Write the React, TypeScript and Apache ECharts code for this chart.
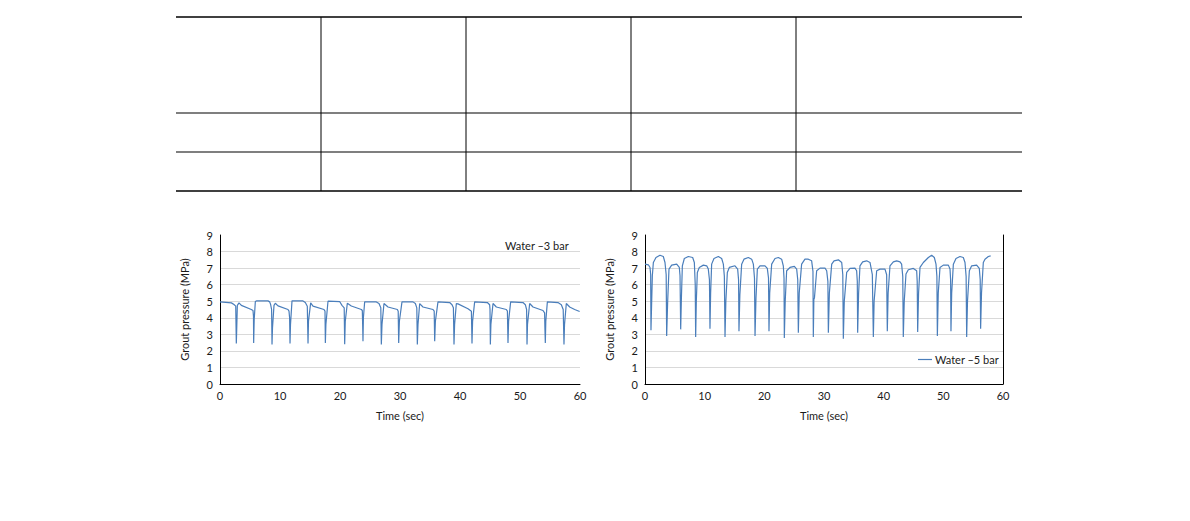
import React, { useEffect, useRef } from "react";
import * as echarts from "echarts";

// ---------- data ----------
const xTicks = [0, 10, 20, 30, 40, 50, 60];
const yTicks = [0, 1, 2, 3, 4, 5, 6, 7, 8, 9];
const seriesNames = ["Water –3 bar", "Water –5 bar"];
const xTitle = "Time (sec)";
const yTitle = "Grout pressure (MPa)";

// [time (sec), grout pressure (MPa)]
const water3Bar: [number, number][] = [
  [0, 4.96], [1.9, 4.9], [2.33, 4.8], [2.62, 4.7], [2.72, 2.45], [2.8, 3.5], [2.89, 4.75], [3.17, 4.9],
  [3.56, 4.75], [5.22, 4.5], [5.5, 4.44], [5.58, 4.1], [5.61, 2.48], [5.7, 3.9], [5.89, 4.98], [6.06, 5.02],
  [8.0, 5.02], [8.28, 4.96], [8.44, 4.8], [8.6, 4.5], [8.67, 2.38], [8.75, 3.4], [9.0, 4.75], [9.22, 4.88],
  [9.67, 4.72], [11.33, 4.5], [11.5, 4.4], [11.6, 4.0], [11.67, 2.45], [11.75, 3.6], [12.0, 5.02], [13.83, 5.02],
  [14.22, 4.92], [14.55, 4.7], [14.67, 2.45], [14.75, 3.8], [15.11, 4.9], [15.5, 4.7], [17.33, 4.5], [17.5, 4.4],
  [17.56, 2.48], [17.65, 3.6], [18.0, 5.0], [19.94, 4.98], [20.33, 4.75], [20.7, 4.6], [20.78, 2.4], [20.88, 3.8],
  [21.22, 4.88], [21.89, 4.71], [23.56, 4.5], [23.72, 4.44], [23.78, 3.5], [23.83, 2.58], [23.9, 4.0], [24.11, 4.96],
  [26.06, 4.96], [26.5, 4.86], [26.8, 4.6], [26.89, 2.38], [27.0, 3.6], [27.33, 4.86], [28.0, 4.65], [29.56, 4.5],
  [29.7, 4.4], [29.78, 2.48], [29.9, 3.8], [30.33, 4.96], [32.17, 4.96], [32.56, 4.86], [32.8, 4.6], [32.89, 2.38],
  [33.0, 3.6], [33.28, 4.86], [33.83, 4.65], [35.5, 4.5], [35.7, 4.4], [35.78, 2.58], [35.9, 3.8], [36.33, 4.96],
  [38.28, 4.92], [38.67, 4.79], [38.9, 4.6], [39.0, 2.38], [39.1, 3.6], [39.39, 4.86], [39.67, 4.84], [41.33, 4.55],
  [41.9, 4.4], [42.0, 2.44], [42.1, 3.8], [42.44, 4.96], [44.56, 4.92], [44.94, 4.79], [45.0, 4.5], [45.06, 2.38],
  [45.15, 3.6], [45.5, 4.86], [46.06, 4.65], [47.72, 4.5], [47.9, 4.4], [48.0, 2.48], [48.1, 3.8], [48.44, 4.96],
  [50.5, 4.92], [50.89, 4.79], [51.1, 4.5], [51.17, 2.38], [51.25, 3.6], [51.61, 4.86], [52.17, 4.65], [53.83, 4.44],
  [54.1, 4.3], [54.15, 3.4], [54.22, 2.48], [54.3, 3.8], [54.56, 4.96], [56.33, 4.92], [56.89, 4.79], [57.2, 4.5],
  [57.33, 2.38], [57.42, 3.6], [57.72, 4.86], [58.28, 4.65], [59.11, 4.5], [59.94, 4.38],
];

const water5Bar: [number, number][] = [
  [0, 7.24], [0.56, 7.2], [0.84, 7.04], [0.95, 6.6], [1.0, 3.24], [1.1, 4.7], [1.23, 6.54], [1.4, 7.34],
  [1.84, 7.64], [2.51, 7.78], [3.07, 7.7], [3.35, 7.34], [3.55, 6.6], [3.63, 2.9], [3.8, 5.0], [4.02, 6.94],
  [4.47, 7.18], [5.31, 7.24], [5.75, 7.04], [5.87, 6.54], [5.98, 3.3], [6.1, 5.2], [6.26, 7.14], [6.59, 7.58],
  [7.26, 7.7], [7.99, 7.64], [8.27, 7.34], [8.42, 6.0], [8.49, 2.84], [8.6, 5.0], [8.77, 6.74], [9.1, 7.04],
  [9.78, 7.18], [10.34, 7.14], [10.61, 6.94], [10.8, 6.3], [10.89, 3.34], [11.0, 5.5], [11.17, 7.24], [11.56, 7.58],
  [12.29, 7.7], [12.85, 7.58], [13.13, 7.24], [13.3, 6.5], [13.41, 2.84], [13.55, 5.0], [13.8, 6.74], [14.13, 7.04],
  [15.08, 7.14], [15.53, 6.94], [15.68, 6.3], [15.75, 3.18], [15.9, 5.4], [16.2, 7.24], [16.59, 7.54], [17.32, 7.64],
  [17.88, 7.54], [18.16, 7.24], [18.35, 6.4], [18.44, 2.9], [18.6, 5.2], [18.83, 6.94], [19.27, 7.14], [20.11, 7.14],
  [20.5, 6.98], [20.7, 6.4], [20.78, 3.18], [20.9, 5.5], [21.23, 7.24], [21.79, 7.58], [22.35, 7.64], [22.9, 7.54],
  [23.18, 7.14], [23.3, 6.4], [23.35, 2.78], [23.5, 5.0], [23.74, 6.84], [24.3, 7.04], [25.03, 7.1], [25.42, 6.94],
  [25.6, 6.3], [25.7, 3.1], [25.85, 5.5], [26.25, 7.24], [26.81, 7.54], [27.37, 7.54], [27.93, 7.44], [28.15, 6.8],
  [28.21, 2.84], [28.3, 5.1], [28.4, 5.2], [28.77, 6.84], [29.33, 7.0], [30.17, 7.0], [30.45, 6.84], [30.65, 6.2],
  [30.73, 3.1], [30.9, 5.5], [31.29, 7.24], [31.68, 7.44], [32.41, 7.5], [32.97, 7.34], [33.15, 6.6], [33.24, 2.74],
  [33.4, 5.0], [33.8, 6.74], [34.36, 6.98], [35.19, 7.0], [35.47, 6.84], [35.58, 6.2], [35.64, 3.1], [35.8, 5.5],
  [36.03, 7.14], [36.48, 7.38], [37.15, 7.44], [37.71, 7.34], [38.1, 6.6], [38.27, 2.84], [38.4, 5.0], [38.83, 6.84],
  [39.39, 6.94], [40.22, 6.94], [40.5, 6.6], [40.61, 3.18], [40.75, 5.5], [41.06, 7.14], [41.62, 7.38], [42.18, 7.44],
  [42.74, 7.38], [43.01, 7.24], [43.2, 6.5], [43.29, 2.84], [43.45, 5.0], [43.74, 6.64], [44.13, 6.9], [44.97, 6.98],
  [45.53, 6.84], [45.62, 6.2], [45.7, 3.14], [45.85, 5.5], [46.09, 7.04], [46.65, 7.34], [47.49, 7.64], [48.04, 7.78],
  [48.49, 7.64], [48.77, 7.24], [48.92, 6.5], [49.0, 2.9], [49.15, 5.5], [49.44, 7.04], [50.0, 7.18], [50.84, 7.18],
  [51.12, 6.94], [51.22, 6.3], [51.28, 3.18], [51.4, 5.5], [51.68, 7.24], [52.12, 7.58], [52.79, 7.7], [53.35, 7.64],
  [53.63, 7.34], [53.82, 6.5], [53.91, 2.84], [54.05, 5.0], [54.36, 6.84], [54.75, 7.14], [55.58, 7.18], [56.03, 6.98],
  [56.18, 6.3], [56.25, 3.34], [56.4, 5.5], [56.7, 7.34], [56.98, 7.54], [57.54, 7.7], [57.93, 7.74],
];

// ---------- styles ----------
const FONT = "Lato";
const LINE_COLOR = "#4a7ebb";
const TEXT_COLOR = "#1a1a1a";
const GRID_COLOR = "#d9d9d9";

function xAxisFor(gridIndex: number) {
  return {
    gridIndex,
    type: "value",
    min: xTicks[0],
    max: xTicks[xTicks.length - 1],
    interval: 10,
    axisLine: { show: true, onZero: false, lineStyle: { color: "#000", width: 1 } },
    axisTick: { show: false },
    splitLine: { show: false },
    axisLabel: { color: TEXT_COLOR, fontSize: 11, fontFamily: FONT, margin: 6 },
    name: xTitle,
    nameLocation: "middle",
    nameGap: 26,
    nameTextStyle: { color: TEXT_COLOR, fontSize: 11, fontFamily: FONT },
  };
}

function yAxisFor(gridIndex: number) {
  return {
    gridIndex,
    type: "value",
    min: yTicks[0],
    max: yTicks[yTicks.length - 1],
    interval: 1,
    axisLine: { show: true, lineStyle: { color: "#000", width: 1 } },
    axisTick: { show: false },
    splitLine: {
      show: true,
      showMinLine: false,
      showMaxLine: false,
      lineStyle: { color: GRID_COLOR, width: 1 },
    },
    axisLabel: { color: TEXT_COLOR, fontSize: 11, fontFamily: FONT, margin: 7 },
    name: yTitle,
    nameLocation: "middle",
    nameGap: 30,
    nameRotate: 90,
    nameTextStyle: { color: TEXT_COLOR, fontSize: 11, fontFamily: FONT },
  };
}

// table rule lines (decoration above the charts)
const tableLeft = 176;
const tableRight = 1022;
const tableRows = [17, 113, 152, 191];
const tableCols = [321, 466, 631, 796];

function tableGraphics() {
  const els: any[] = [];
  tableRows.forEach((y, i) => {
    const thick = i === 0 || i === tableRows.length - 1;
    els.push({
      type: "line",
      shape: { x1: tableLeft, y1: y, x2: tableRight, y2: y },
      style: { stroke: "#000", lineWidth: thick ? 1.6 : 1.2 },
      silent: true,
    });
  });
  tableCols.forEach((x) => {
    els.push({
      type: "line",
      shape: { x1: x, y1: tableRows[0], x2: x, y2: tableRows[tableRows.length - 1] },
      style: { stroke: "#000", lineWidth: 1 },
      silent: true,
    });
  });
  return els;
}

export default function App() {
  const ref = useRef<HTMLDivElement>(null);

  useEffect(() => {
    if (!ref.current) return;
    const chart = echarts.init(ref.current, null, { renderer: "svg" });
    const option: any = {
      animation: false,
      backgroundColor: "#fff",
      textStyle: { fontFamily: FONT },
      grid: [
        { left: 220, top: 235, width: 360, height: 149, containLabel: false },
        { left: 645, top: 235, width: 358, height: 149, containLabel: false },
      ],
      xAxis: [xAxisFor(0), xAxisFor(1)],
      yAxis: [
        yAxisFor(0),
        yAxisFor(1),
        {
          gridIndex: 1,
          type: "value",
          position: "right",
          min: yTicks[0],
          max: yTicks[yTicks.length - 1],
          interval: 1,
          axisLine: { show: true, lineStyle: { color: "#000", width: 1 } },
          axisTick: { show: false },
          axisLabel: { show: false },
          splitLine: { show: false },
        },
      ],
      legend: [
        {
          data: [seriesNames[1]],
          left: 918,
          top: 354,
          padding: 0,
          icon: "rect",
          itemWidth: 14,
          itemHeight: 1.2,
          itemGap: 4,
          textStyle: { color: TEXT_COLOR, fontSize: 11, fontFamily: FONT, padding: [0, 0, 0, -2] },
        },
      ],
      graphic: [
        ...tableGraphics(),
        {
          type: "text",
          left: 505,
          top: 240,
          style: { text: seriesNames[0], fill: TEXT_COLOR, font: `11px ${FONT}` },
          silent: true,
        },
      ],
      series: [
        {
          name: seriesNames[0],
          type: "line",
          xAxisIndex: 0,
          yAxisIndex: 0,
          data: water3Bar,
          symbol: "none",
          lineStyle: { color: LINE_COLOR, width: 1.2 },
          itemStyle: { color: LINE_COLOR },
        },
        {
          name: seriesNames[1],
          type: "line",
          xAxisIndex: 1,
          yAxisIndex: 1,
          data: water5Bar,
          symbol: "none",
          lineStyle: { color: LINE_COLOR, width: 1.2 },
          itemStyle: { color: LINE_COLOR },
        },
      ],
    };
    chart.setOption(option);
    return () => chart.dispose();
  }, []);

  return (
    <div
      ref={ref}
      style={{ position: "absolute", left: 0, top: 0, width: 1190, height: 521 }}
    />
  );
}
